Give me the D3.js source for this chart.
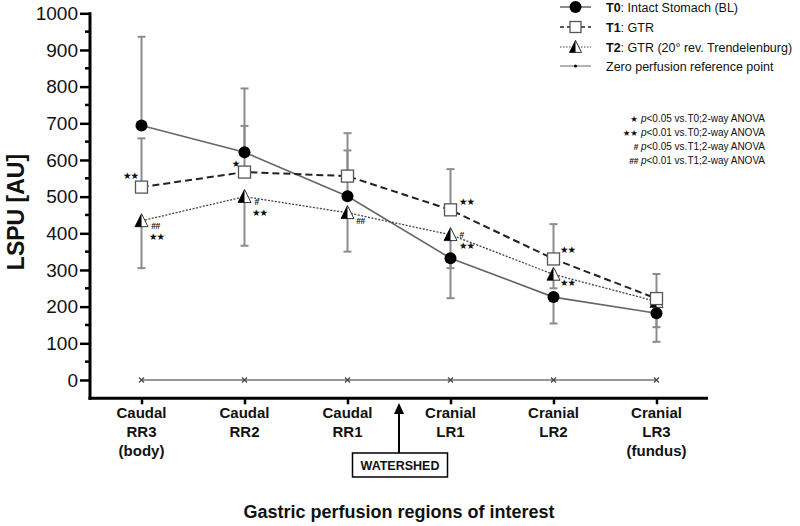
<!DOCTYPE html>
<html><head><meta charset="utf-8">
<script src="https://cdn.jsdelivr.net/npm/d3@7"></script>
<style>
body{margin:0;background:#fff;}
text{font-family:"Liberation Sans",Arial,sans-serif;}
</style></head>
<body><svg id="c" width="800" height="526"></svg>
<script>
// ---------- data ----------
const categories = ["RR3","RR2","RR1","LR1","LR2","LR3"];
const categoryLabels = [["Caudal","RR3","(body)"],["Caudal","RR2"],["Caudal","RR1"],["Cranial","LR1"],["Cranial","LR2"],["Cranial","LR3","(fundus)"]];
const yTicks = [0,100,200,300,400,500,600,700,800,900,1000];
const t0Mean = [694, 621, 501, 332, 226, 182];
const t0ErrEnd = [936, 795, 673, 223, 154, 104];   // one-sided SD bar end
const t1Mean = [526, 567, 556, 464, 330, 222];
const t1ErrEnd = [659, 693, 626, 575, 425, 289];
const t2Mean = [434, 500, 456, 396, 288, 214];
const t2ErrEnd = [305, 366, 350, 305, 250, 144];
const zeroRef = [0, 0, 0, 0, 0, 0];
const legendLabels = [["T0", ": Intact Stomach (BL)"],["T1", ": GTR"],["T2", ": GTR (20° rev. Trendelenburg)"],["", "Zero perfusion reference point"]];
const sigNotes = [["★", "p", "<0.05 vs.T0;2-way ANOVA"],["★★", "p", "<0.01 vs.T0;2-way ANOVA"],["#", "p", "<0.05 vs.T1;2-way ANOVA"],["##", "p", "<0.01 vs.T1;2-way ANOVA"]];
// significance marks: [category index, series, text]
const marks = [[0,"t1","★★"],[0,"t2","##"],[0,"t2","★★"],[1,"t1","★"],[1,"t2","#"],[1,"t2","★★"],[2,"t2","##"],[3,"t1","★★"],[3,"t2","#"],[3,"t2","★★"],[4,"t1","★★"],[4,"t2","★★"]];
// ---------- layout ----------
const markOffsets = [[-11,-12],[14,5],[15,16],[-9,-9],[12,5],[15,16],[13,8],[16,-8],[11,0],[16,11],[14,-9],[14,8]];

const svg = d3.select("#c");
const x = d3.scalePoint().domain(categories).range([90,708]).padding(0.5);
const y = d3.scaleLinear().domain([-50,1000]).range([398.3,13.3]);

// y axis
const yAxis = svg.append("g").attr("transform","translate(90,0)")
  .call(d3.axisLeft(y).tickValues(yTicks).tickFormat(d3.format("d")).tickSize(10).tickPadding(2).tickSizeOuter(0));
yAxis.select(".domain").remove();
yAxis.selectAll(".tick line").attr("stroke","#000").attr("stroke-width",2.5);
yAxis.selectAll(".tick text").attr("font-size",19).attr("fill","#111").style("font-family","Liberation Sans, Arial");
const minor = d3.range(50,1000,100);
svg.append("g").selectAll("line").data(minor).join("line")
  .attr("x1",85).attr("x2",90).attr("y1",d=>y(d)).attr("y2",d=>y(d)).attr("stroke","#000").attr("stroke-width",2.5);
svg.append("line").attr("x1",90).attr("x2",90).attr("y1",y(1000)-1).attr("y2",y(-50)+1.5).attr("stroke","#000").attr("stroke-width",3);

// x axis
const xAxis = svg.append("g").attr("transform",`translate(0,${y(-50)})`)
  .call(d3.axisBottom(x).tickSize(6).tickSizeOuter(0).tickFormat(""));
xAxis.select(".domain").attr("stroke","#000").attr("stroke-width",3).attr("d","M88.5,0H708");
xAxis.selectAll(".tick line").attr("stroke","#000").attr("stroke-width",2.5);
const xl = svg.append("g").selectAll("text").data(categories).join("text")
  .attr("x",d=>x(d)).attr("y",418).attr("text-anchor","middle")
  .attr("font-size",15).attr("font-weight","bold").attr("fill","#111");
xl.each(function(d,i){
  d3.select(this).selectAll("tspan").data(categoryLabels[i]).join("tspan")
    .attr("x",x(d)).attr("dy",(t,j)=>j===0?0:19).text(t=>t);
});

// axis titles
svg.append("text").attr("transform","translate(24,212) rotate(-90)").attr("text-anchor","middle")
  .attr("font-size",23).attr("font-weight","bold").attr("fill","#111").text("LSPU [AU]");
svg.append("text").attr("x",399).attr("y",518).attr("text-anchor","middle")
  .attr("font-size",18).attr("font-weight","bold").attr("fill","#111").text("Gastric perfusion regions of interest");

// watershed
const wx = (x("RR1")+x("LR1"))/2;
svg.append("line").attr("x1",wx).attr("x2",wx).attr("y1",453).attr("y2",412).attr("stroke","#000").attr("stroke-width",2);
svg.append("path").attr("d",`M${wx},403L${wx-5},414L${wx+5},414Z`).attr("fill","#000");
svg.append("rect").attr("x",wx-46.5).attr("y",453).attr("width",95).attr("height",24).attr("fill","#fff").attr("stroke","#000").attr("stroke-width",1.5);
svg.append("text").attr("x",wx+1).attr("y",469.5).attr("text-anchor","middle").attr("font-size",12.5).attr("font-weight","bold").attr("fill","#111").text("WATERSHED");

// zero reference line
const zline = d3.line().x((d,i)=>x(categories[i])).y(d=>y(d));
svg.append("path").attr("d",zline(zeroRef)).attr("fill","none").attr("stroke","#999").attr("stroke-width",2);
svg.append("g").selectAll("path").data(zeroRef).join("path")
  .attr("d",(d,i)=>{const cx=x(categories[i]),cy=y(d);return `M${cx-2.5},${cy-2.5}L${cx+2.5},${cy+2.5}M${cx+2.5},${cy-2.5}L${cx-2.5},${cy+2.5}`;})
  .attr("stroke","#444").attr("stroke-width",1.2);

// error bars
function errBars(mean, end){
  const g = svg.append("g").attr("stroke","#8c8c8c").attr("stroke-width",2);
  mean.forEach((m,i)=>{
    const cx = x(categories[i]);
    g.append("line").attr("x1",cx).attr("x2",cx).attr("y1",y(m)).attr("y2",y(end[i]));
    g.append("line").attr("x1",cx-4).attr("x2",cx+4).attr("y1",y(end[i])).attr("y2",y(end[i]));
  });
}
errBars(t0Mean,t0ErrEnd);
errBars(t1Mean,t1ErrEnd);
errBars(t2Mean,t2ErrEnd);

// series lines
const line = d3.line().x((d,i)=>x(categories[i])).y(d=>y(d));
svg.append("path").attr("d",line(t0Mean)).attr("fill","none").attr("stroke","#666").attr("stroke-width",1.6);
svg.append("path").attr("d",line(t1Mean)).attr("fill","none").attr("stroke","#222").attr("stroke-width",2).attr("stroke-dasharray","7,4");
svg.append("path").attr("d",line(t2Mean)).attr("fill","none").attr("stroke","#444").attr("stroke-width",1.3).attr("stroke-dasharray","2,1.5");

// markers
function circleM(g,cx,cy,r){g.append("circle").attr("cx",cx).attr("cy",cy).attr("r",r).attr("fill","#000");}
function squareM(g,cx,cy,s){g.append("rect").attr("x",cx-s/2).attr("y",cy-s/2).attr("width",s).attr("height",s).attr("fill","#fff").attr("stroke","#555").attr("stroke-width",1.3);}
function triM(g,cx,cy,s){
  const top=cy-s*0.55, bot=cy+s*0.45;
  g.append("path").attr("d",`M${cx},${top}L${cx+s/2},${bot}L${cx-s/2},${bot}Z`).attr("fill","#fff").attr("stroke","#333").attr("stroke-width",1);
  g.append("path").attr("d",`M${cx},${top}L${cx},${bot}L${cx-s/2},${bot}Z`).attr("fill","#000");
}
const mg = svg.append("g");
t2Mean.forEach((v,i)=>triM(mg,x(categories[i]),y(v),13));
t1Mean.forEach((v,i)=>squareM(mg,x(categories[i]),y(v),12));
t0Mean.forEach((v,i)=>circleM(mg,x(categories[i]),y(v),6));

// significance marks
const seriesMean = {t1:t1Mean, t2:t2Mean};
svg.append("g").selectAll("text").data(marks).join("text")
  .attr("x",(d,i)=>x(categories[d[0]])+markOffsets[i][0])
  .attr("y",(d,i)=>y(seriesMean[d[1]][d[0]])+markOffsets[i][1])
  .attr("text-anchor","middle").attr("dominant-baseline","central")
  .attr("font-size",d=>d[2].includes("#")?8.5:9.5).attr("font-weight","bold").attr("fill","#111")
  .style("font-family",d=>d[2].includes("#")?"Liberation Sans":"DejaVu Sans")
  .attr("letter-spacing",d=>d[2].includes("★")?-1:-0.5)
  .text(d=>d[2]);

// legend
const lg = svg.append("g");
const ly = [7,27,47,66];
legendLabels.forEach((lab,i)=>{
  const yy = ly[i];
  const ln = lg.append("line").attr("x1",560).attr("x2",591).attr("y1",yy).attr("y2",yy);
  if(i===0){ ln.attr("stroke","#666").attr("stroke-width",1.5); circleM(lg,575.5,yy,6); }
  if(i===1){ ln.attr("stroke","#222").attr("stroke-width",1.5).attr("stroke-dasharray","4,3"); squareM(lg,575.5,yy,11); }
  if(i===2){ ln.attr("stroke","#444").attr("stroke-width",1).attr("stroke-dasharray","1.5,1.5"); triM(lg,575.5,yy,12); }
  if(i===3){ ln.attr("stroke","#666").attr("stroke-width",1); lg.append("circle").attr("cx",575.5).attr("cy",yy).attr("r",1.5).attr("fill","#000"); }
  const t = lg.append("text").attr("x",606).attr("y",yy+4.5).attr("font-size",12.5).attr("fill","#111");
  if(lab[0]) t.append("tspan").attr("font-weight","bold").text(lab[0]);
  t.append("tspan").text(lab[1]);
});

// significance note legend
const ng = svg.append("g");
const ny = [118,132,146,160];
sigNotes.forEach((n,i)=>{
  const t = ng.append("text").attr("x",765).attr("y",ny[i]+3.5).attr("text-anchor","end").attr("font-size",10).attr("fill","#111");
  t.append("tspan").attr("font-weight","bold").attr("font-size",8.5)
    .style("font-family",n[0].includes("#")?"Liberation Sans":"DejaVu Sans").text(n[0]+" ");
  t.append("tspan").attr("font-style","italic").text(n[1]);
  t.append("tspan").text(n[2]);
});
</script></body></html>
